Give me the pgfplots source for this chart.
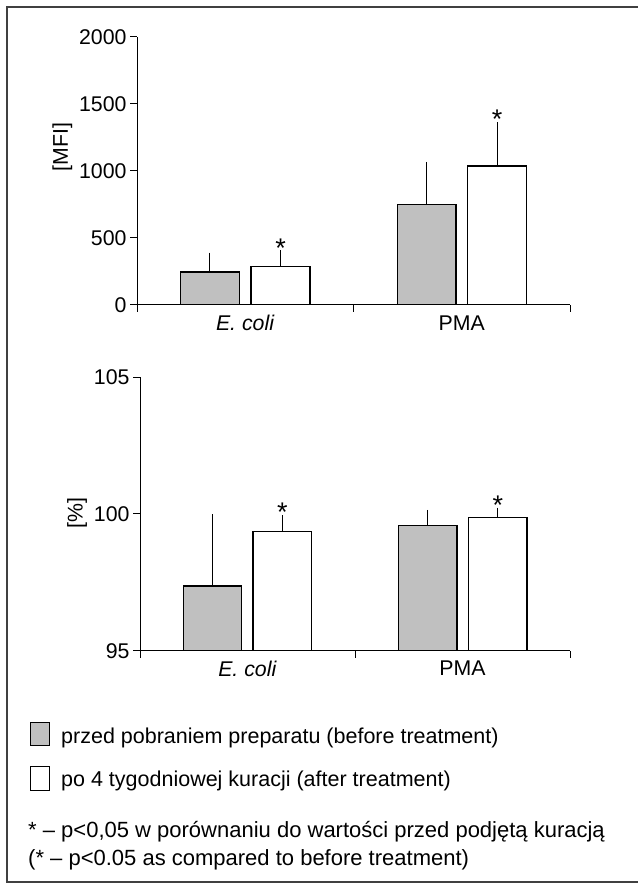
\documentclass[border=0pt]{standalone}
\usepackage{fontspec}
\setmainfont{Liberation Sans}
\usepackage{pgfplots}
\pgfplotsset{compat=1.18}
\definecolor{bargray}{RGB}{192,192,192}
\newcommand{\lblfont}{\fontsize{21.3bp}{25bp}\selectfont}
\newcommand{\starfont}{\fontsize{27bp}{30bp}\selectfont}
\newcommand{\legfont}{\fontsize{21.5bp}{25bp}\selectfont}
\newcommand{\notefont}{\fontsize{22bp}{26bp}\selectfont}
\pgfplotsset{
  mybars/.style={
    scale only axis, anchor=south west,
    xmin=0, xmax=2,
    axis x line*=bottom, axis y line*=left,
    axis line style={line width=1bp, -},
    xtick={0,1,2}, xticklabels={},
    extra x ticks={0.5,1.5},
    extra x tick labels={\textit{E. coli}, PMA},
    extra x tick style={tick style={draw=none}},
    tick align=outside, major tick length=7bp,
    tick style={line width=1bp, black},
    ticklabel style={font=\lblfont},
    label style={font=\lblfont},
    /pgf/number format/assume math mode=true,
    /pgf/number format/1000 sep={},
    clip=true,
  },
  before/.style={ybar, bar shift=0pt, bar width=0.272, fill=bargray, draw=black, line width=1.4bp,
    error bars/.cd, y dir=plus, y explicit, error mark=-, 
    error bar style={line width=1bp, black},
    error mark options={line width=1bp, mark size=2bp, black}},
  after/.style={ybar, bar shift=0pt, bar width=0.272, fill=white, draw=black, line width=1.3bp,
    error bars/.cd, y dir=plus, y explicit, error mark=-,
    error bar style={line width=1bp, black},
    error mark options={line width=1bp, mark size=2bp, black}},
}
\begin{document}
\begin{tikzpicture}[x=1bp,y=1bp]
\useasboundingbox (0bp,0bp) rectangle (638bp,884bp);
\draw[line width=1.8bp, black!75] (7bp,2bp) rectangle (641bp,877bp);

% top panel
\begin{axis}[mybars, at={(137bp,579bp)}, width=433bp, height=268.3bp,
  ymin=0, ymax=2000, ytick={0,500,1000,1500,2000},
  ylabel={[MFI]}, ylabel style={at={(ticklabel cs:0.589)}}]
\addplot[before] coordinates {(0.337,245) +- (0,130) (1.338,750) +- (0,301)};
\addplot[after] coordinates {(0.663,285) +- (0,108) (1.663,1036) +- (0,313)};
\node[font=\starfont, anchor=base, yshift=-5.5bp, inner sep=0pt] at (axis cs:0.663,393) {*};
\node[font=\starfont, anchor=base, yshift=-4.5bp, inner sep=0pt] at (axis cs:1.663,1349) {*};
\end{axis}

% bottom panel
\begin{axis}[mybars, at={(140bp,233.3bp)}, width=430bp, height=273.4bp,
  ymin=95, ymax=105, ytick={95,100,105},
  ylabel={[\%]}, ylabel style={at={(ticklabel cs:0.505)}}]
\addplot[before] coordinates {(0.337,97.37) +- (0,2.55) (1.338,99.57) +- (0,0.51)};
\addplot[after] coordinates {(0.662,99.37) +- (0,0.52) (1.664,99.88) +- (0,0.28)};
\node[font=\starfont, anchor=base, yshift=-4.5bp, inner sep=0pt] at (axis cs:0.662,99.89) {*};
\node[font=\starfont, anchor=base, yshift=-4.5bp, inner sep=0pt] at (axis cs:1.664,100.16) {*};
\end{axis}

% legend
\draw[fill=bargray, line width=1bp] (30.5bp,138bp) rectangle (49.5bp,161bp);
\draw[fill=white, line width=1bp] (30.5bp,93.5bp) rectangle (49.5bp,117bp);
\node[font=\legfont, anchor=west, inner sep=0pt] at (61bp,146bp) {przed pobraniem preparatu (before treatment)};
\node[font=\legfont, anchor=west, inner sep=0pt] at (61bp,103bp) {po 4 tygodniowej kuracji (after treatment)};
\node[font=\notefont, anchor=west, inner sep=0pt] at (28bp,52bp) {* – p<0,05 w porównaniu do wartości przed podjętą kuracją};
\node[font=\notefont, anchor=west, inner sep=0pt] at (28bp,24bp) {(* – p<0.05 as compared to before treatment)};
\end{tikzpicture}
\end{document}
